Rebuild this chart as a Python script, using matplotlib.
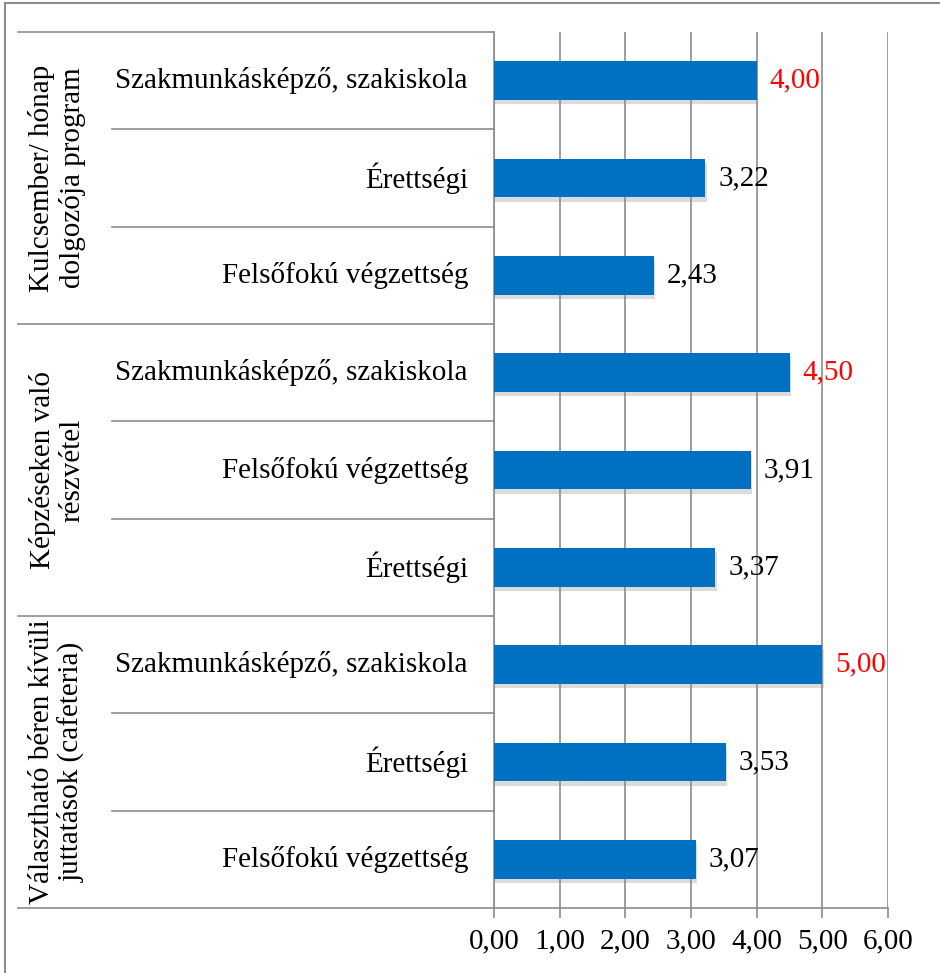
import matplotlib
matplotlib.use('Agg')
import matplotlib.pyplot as plt
import matplotlib.patheffects as pe
import matplotlib.transforms as mtransforms
from matplotlib.lines import Line2D

plt.rcParams['font.family'] = ['Liberation Serif', 'DejaVu Serif']

groups = ['Kulcsember/ hónap\ndolgozója program',
          'Képzéseken való\nrészvétel',
          'Választható béren kívüli\njuttatások (cafeteria)']
categories = [
    ['Szakmunkásképző, szakiskola', 'Érettségi', 'Felsőfokú végzettség'],
    ['Szakmunkásképző, szakiskola', 'Felsőfokú végzettség', 'Érettségi'],
    ['Szakmunkásképző, szakiskola', 'Érettségi', 'Felsőfokú végzettség'],
]
values = [
    [4.00, 3.22, 2.43],
    [4.50, 3.91, 3.37],
    [5.00, 3.53, 3.07],
]
x_ticks = [0, 1, 2, 3, 4, 5, 6]

bar_color = '#0070C0'
grid_color = '#8c8c8c'
fs = 21

fig = plt.figure(figsize=(9.4, 9.73), dpi=100)
ax = fig.add_axes([494 / 940, 1 - 908 / 973, 394 / 940, 876 / 973])

labels = [c for g in categories for c in g]
vals = [v for g in values for v in g]
ypos = list(range(len(vals)))

bars = ax.barh(ypos, vals, height=0.4, color=bar_color, zorder=3)
for b in bars:
    b.set_path_effects([pe.SimplePatchShadow(offset=(1, -3), shadow_rgbFace='#888888', alpha=0.3),
                        pe.Normal()])

ax.set_ylim(len(vals) - 0.5, -0.5)
ax.set_xlim(0, 6)
ax.set_xticks(x_ticks)
ax.set_xticklabels([f'{t:.2f}'.replace('.', ',') for t in x_ticks], fontsize=fs)
ax.tick_params(axis='x', length=7, width=1.2, color=grid_color, pad=8)
ax.set_yticks([])
ax.grid(axis='x', color=grid_color, linewidth=1.2, zorder=0)
for s in ['top', 'right']:
    ax.spines[s].set_visible(False)
for s in ['left', 'bottom']:
    ax.spines[s].set_color(grid_color)
    ax.spines[s].set_linewidth(1.2)

# value labels, group maxima in red
for gi, g in enumerate(values):
    gmax = max(g)
    for ci, v in enumerate(g):
        y = gi * 3 + ci
        col = 'red' if v == gmax else 'black'
        ax.text(v + 0.2, y, f'{v:.2f}'.replace('.', ','), va='center', ha='left',
                fontsize=fs, color=col, zorder=4)

# multi-level category axis drawn by hand
trans = mtransforms.blended_transform_factory(ax.transAxes, ax.transData)
x_sub = (112 - 494) / 394
x_grp = (18 - 494) / 394
for y, lab in zip(ypos, labels):
    ax.text(-0.066, y, lab, transform=trans, ha='right', va='center', fontsize=fs)
for k in range(len(vals) + 1):
    yb = k - 0.5
    x0 = x_grp if k % 3 == 0 else x_sub
    ax.add_line(Line2D([x0, 0], [yb, yb], transform=trans, color=grid_color,
                       linewidth=1.2, clip_on=False))
for gi, g in enumerate(groups):
    ax.text((57 - 494) / 394, gi * 3 + 1, g, transform=trans, rotation=90,
            ha='center', va='center', fontsize=fs, linespacing=1.15, multialignment='center')

# outer frame (top and left edges)
fig.add_artist(Line2D([5 / 940, 1], [1 - 3 / 973, 1 - 3 / 973], transform=fig.transFigure,
                      color='#8c8c8c', linewidth=1.5))
fig.add_artist(Line2D([5 / 940, 5 / 940], [0, 1 - 3 / 973], transform=fig.transFigure,
                      color='#8c8c8c', linewidth=1.5))

plt.savefig('out.png', dpi=100)
